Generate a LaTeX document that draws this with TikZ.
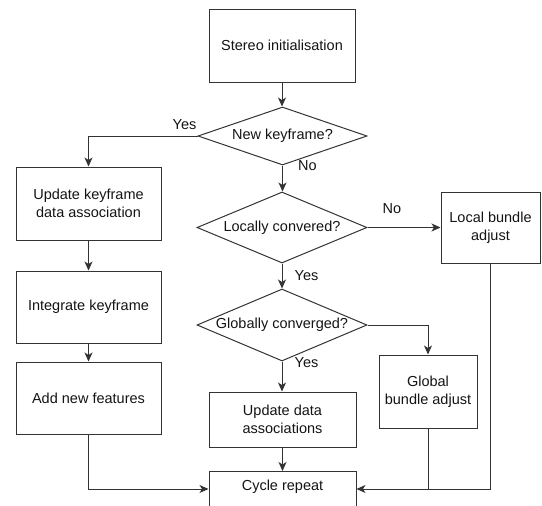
\documentclass[tikz,border=0pt]{standalone}
\usepackage{fontspec}
\setmainfont{Liberation Sans}
\usetikzlibrary{shapes.geometric,arrows.meta}
\begin{document}
\begin{tikzpicture}[x=1pt,y=-1pt,
  txt/.style={font=\fontsize{14.5}{18}\selectfont, text=black!92},
  box/.style={txt, draw=black!80, line width=1pt, rectangle, inner sep=0pt, align=center},
  dia/.style={draw=black!80, line width=1pt, diamond, inner sep=0pt},
  arr/.style={draw=black!80, line width=1pt, -{Stealth[length=9pt,width=8pt,inset=2.5pt]}},
  ln/.style={draw=black!80, line width=1pt},
  lab/.style={txt, inner sep=0pt}]
\useasboundingbox (0,0) rectangle (542,506);
\clip (0,0) rectangle (542,506);

% boxes
\node[box, minimum width=146, minimum height=73] (stereo) at (282,45.5) {Stereo initialisation};
\node[box, minimum width=145, minimum height=73] (upkf) at (88.5,203.5) {Update keyframe\\data association};
\node[box, minimum width=145, minimum height=72] (integ) at (88.5,307) {Integrate keyframe};
\node[box, minimum width=145, minimum height=72] (addnf) at (88.5,398) {Add new features};
\node[box, minimum width=99, minimum height=71] (local) at (490.5,227.5) {Local bundle\\adjust};
\node[box, minimum width=98, minimum height=73] (global) at (428,391.5) {Global\\bundle adjust};
\node[box, minimum width=147, minimum height=55] (upda) at (282.5,419.5) {Update data\\associations};
\node[box, minimum width=147, minimum height=50, anchor=north] (cyc) at (282.5,471) {};
\node[lab] (cyctxt) at (282.5,487) {Cycle repeat};
\coordinate (cin) at (282.5,489);

% diamonds
\node[dia, minimum width=169, minimum height=58] (newkf) at (282.5,136) {};
\node[lab] at (newkf.center) {New keyframe?};
\node[dia, minimum width=170, minimum height=71] (locc) at (282,227.5) {};
\node[lab] at (locc.center) {Locally convered?};
\node[dia, minimum width=170, minimum height=72] (globc) at (282,325) {};
\node[lab] at (globc.center) {Globally converged?};

% connectors
\draw[arr] (stereo.south) -- (stereo.south |- newkf.north);
\draw[arr] (newkf.west) -| (upkf.north);
\draw[arr] (newkf.south) -- (newkf.south |- locc.north);
\draw[arr] (locc.east) -- (local.west);
\draw[arr] (locc.south) -- (locc.south |- globc.north);
\draw[arr] (globc.east) -| (global.north);
\draw[arr] (globc.south) -- (globc.south |- upda.north);
\draw[arr] (upda.south) -- (cyc.north);
\draw[arr] (upkf.south) -- (integ.north);
\draw[arr] (integ.south) -- (addnf.north);
\draw[arr] (addnf.south) |- (cyc.west |- cin);
\draw[arr] (global.south) |- (cyc.east |- cin);
\draw[ln] (local.south) |- (global.south |- cin);

% labels
\node[lab] at (184.5,125) {Yes};
\node[lab] at (307.5,166) {No};
\node[lab] at (392,209) {No};
\node[lab] at (306.5,276) {Yes};
\node[lab] at (306.5,363) {Yes};
\end{tikzpicture}
\end{document}
